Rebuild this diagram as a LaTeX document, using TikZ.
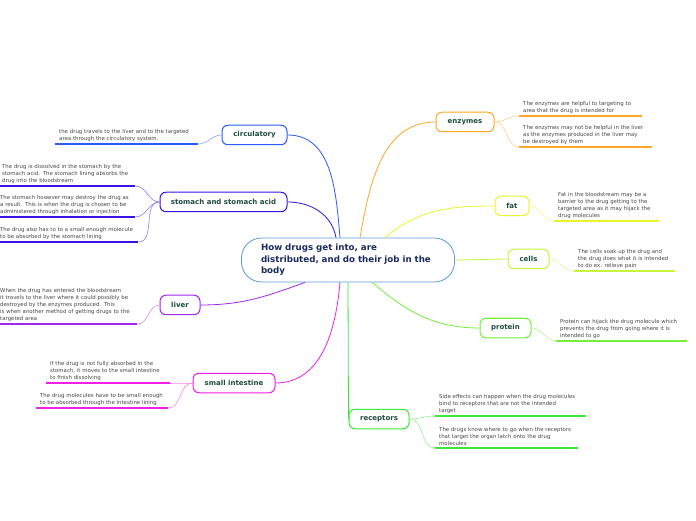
\documentclass[tikz,border=0pt]{standalone}
\usepackage{fontspec}
\setmainfont{DejaVu Sans}
\usetikzlibrary{positioning}
\definecolor{vsky}{HTML}{5B9BD5}
\definecolor{vnavy}{HTML}{1C2B5E}
\definecolor{vteal}{HTML}{1F4A40}
\definecolor{vgrey}{HTML}{484848}
\definecolor{cblue}{HTML}{2A5BFF}
\definecolor{cindigo}{HTML}{3A12E6}
\definecolor{cviolet}{HTML}{A326F0}
\definecolor{cmagenta}{HTML}{F01EE6}
\definecolor{corange}{HTML}{FFA726}
\definecolor{cyellow}{HTML}{EEF22A}
\definecolor{clime}{HTML}{C6F53A}
\definecolor{cgreen}{HTML}{72F03A}
\definecolor{cgrass}{HTML}{3AEA3A}
\tikzset{
  hub/.style={draw=vsky,fill=white,line width=0.8pt,rounded corners=20pt,minimum width=213pt,minimum height=44pt,text width=174pt,align=left,text=vnavy,font=\bfseries\fontsize{8.7}{11.5}\selectfont},
  topic/.style={draw=#1,fill=white,line width=1pt,rounded corners=6pt,minimum height=19.5pt,inner xsep=0pt,text=vteal,font=\bfseries\fontsize{7}{8}\selectfont},
  note/.style={anchor=south west,align=left,text=vgrey,font=\fontsize{5.4}{6.9}\selectfont,inner xsep=4pt,inner ysep=2.5pt},
  rule/.style={draw=#1,line width=1.2pt},
  wire/.style={draw=#1,line width=0.8pt},
  twig/.style={draw=#1!55,line width=0.6pt},
}
\begin{document}
\begin{tikzpicture}[x=1pt,y=1pt]
  \useasboundingbox[fill=white] (0,0) rectangle (696,520);
  \node[hub] (hub) at (348,260) {How drugs get into, are\\distributed, and do their job in the\\body};

  \node[topic=cblue,minimum width=65pt] (circ) at (254.5,385) {circulatory};
  \node[topic=cindigo,minimum width=127pt] (stom) at (223.5,318) {stomach and stomach acid};
  \node[topic=cviolet,minimum width=40pt] (liver) at (180,215) {liver};
  \node[topic=cmagenta,minimum width=82pt] (intest) at (234,137) {small intestine};
  \node[topic=corange,minimum width=58pt] (enz) at (465,398) {enzymes};
  \node[topic=cyellow,minimum width=34pt] (fat) at (512,314) {fat};
  \node[topic=clime,minimum width=41pt] (cells) at (528.5,261) {cells};
  \node[topic=cgreen,minimum width=51pt] (prot) at (505.5,192) {protein};
  \node[topic=cgrass,minimum width=60pt] (recep) at (379,101) {receptors};

  \node[note,text width=135pt] (ncirc) at (55,376) {the drug travels to the liver and to the targeted\\area through the circulatory system.};
  \node[note,text width=129pt] (nstomA) at (-2,334) {The drug is dissolved in the stomach by the\\stomach acid. The stomach lining absorbs the\\drug into the bloodstream};
  \node[note,text width=131pt] (nstomB) at (-4,303) {The stomach however may destroy the drug as\\a result. This is when the drug is chosen to be\\administered through inhalation or injection};
  \node[note,text width=134pt] (nstomC) at (-4,278) {The drug also has to to a small enough molecule\\to be absorbed by the stomach lining};
  \node[note,text width=133pt] (nliver) at (-4,196) {When the drug has entered the bloodstream\\it travels to the liver where it could possibly be\\destroyed by the enzymes produced. This\\is when another method of getting drugs to the\\targeted area};
  \node[note,text width=116pt] (nintA) at (46,137) {If the drug is not fully absorbed in the\\stomach, it moves to the small intestine\\to finish dissolving};
  \node[note,text width=124pt] (nintB) at (36,112) {The drug molecules have to be small enough\\to be absorbed through the intestine lining};
  \node[note,text width=115pt] (nenzA) at (519,404) {The enzymes are helpful to targeting to\\area that the drug is intended for};
  \node[note,text width=125pt] (nenzB) at (519,373) {The enzymes may not be helpful in the liver\\as the enzymes produced in the liver may\\be destroyed by them};
  \node[note,text width=97pt] (nfat) at (554,299) {Fat in the bloodstream may be a\\barrier to the drug getting to the\\targeted area as it may hijack the\\drug molecules};
  \node[note,text width=93pt] (ncells) at (574,249) {The cells soak up the drug and\\the drug does what it is intended\\to do ex. relieve pain};
  \node[note,text width=123pt] (nprot) at (556,179) {Protein can hijack the drug molecule which\\prevents the drug from going where it is\\intended to go};
  \node[note,text width=143pt] (nrecA) at (435,104) {Side effects can happen when the drug molecules\\bind to receptors that are not the intended\\target};
  \node[note,text width=135pt] (nrecB) at (435,72) {The drugs know where to go when the receptors\\that target the organ latch onto the drug\\molecules};

  \draw[wire=cblue] ([xshift=-8pt]hub.north) to[out=95,in=0] (circ.east);
  \draw[wire=cindigo] ([xshift=-12pt]hub.north) to[out=100,in=0] (stom.east);
  \draw[wire=cviolet] ([xshift=-43pt]hub.south) to[out=200,in=0] (liver.east);
  \draw[wire=cmagenta] ([xshift=-8pt]hub.south) to[out=-95,in=0] (intest.east);
  \draw[wire=cgrass] (hub.south) -- (recep.west);
  \draw[wire=corange] ([xshift=12pt]hub.north) to[out=80,in=180] (enz.west);
  \draw[wire=cyellow] ([xshift=37pt]hub.north) to[out=40,in=180] (fat.west);
  \draw[wire=clime] (hub.east) -- (cells.west);
  \draw[wire=cgreen] ([xshift=24pt]hub.south) to[out=-40,in=180] (prot.west);

  \draw[twig=cblue] (circ.west) to[out=180,in=0] (ncirc.south east);
  \draw[twig=cindigo] (stom.west) to[out=180,in=0] (nstomA.south east);
  \draw[twig=cindigo] (stom.west) to[out=180,in=0] (nstomB.south east);
  \draw[twig=cindigo] (stom.west) to[out=180,in=0] (nstomC.south east);
  \draw[twig=cviolet] (liver.west) to[out=180,in=0] (nliver.south east);
  \draw[twig=cmagenta] (intest.west) to[out=180,in=0] (nintA.south east);
  \draw[twig=cmagenta] (intest.west) to[out=180,in=0] (nintB.south east);
  \draw[twig=corange] (enz.east) to[out=0,in=180] (nenzA.south west);
  \draw[twig=corange] (enz.east) to[out=0,in=180] (nenzB.south west);
  \draw[twig=cyellow] (fat.east) to[out=0,in=180] (nfat.south west);
  \draw[twig=clime] (cells.east) to[out=0,in=180] (ncells.south west);
  \draw[twig=cgreen] (prot.east) to[out=0,in=180] (nprot.south west);
  \draw[twig=cgrass] (recep.east) to[out=0,in=180] (nrecA.south west);
  \draw[twig=cgrass] (recep.east) to[out=0,in=180] (nrecB.south west);

  \draw[rule=cblue] (ncirc.south west) -- (ncirc.south east);
  \draw[rule=cindigo] (nstomA.south west) -- (nstomA.south east);
  \draw[rule=cindigo] (nstomB.south west) -- (nstomB.south east);
  \draw[rule=cindigo] (nstomC.south west) -- (nstomC.south east);
  \draw[rule=cviolet] (nliver.south west) -- (nliver.south east);
  \draw[rule=cmagenta] (nintA.south west) -- (nintA.south east);
  \draw[rule=cmagenta] (nintB.south west) -- (nintB.south east);
  \draw[rule=corange] (nenzA.south west) -- (nenzA.south east);
  \draw[rule=corange] (nenzB.south west) -- (nenzB.south east);
  \draw[rule=cyellow] (nfat.south west) -- (nfat.south east);
  \draw[rule=clime] (ncells.south west) -- (ncells.south east);
  \draw[rule=cgreen] (nprot.south west) -- (nprot.south east);
  \draw[rule=cgrass] (nrecA.south west) -- (nrecA.south east);
  \draw[rule=cgrass] (nrecB.south west) -- (nrecB.south east);
\end{tikzpicture}
\end{document}
